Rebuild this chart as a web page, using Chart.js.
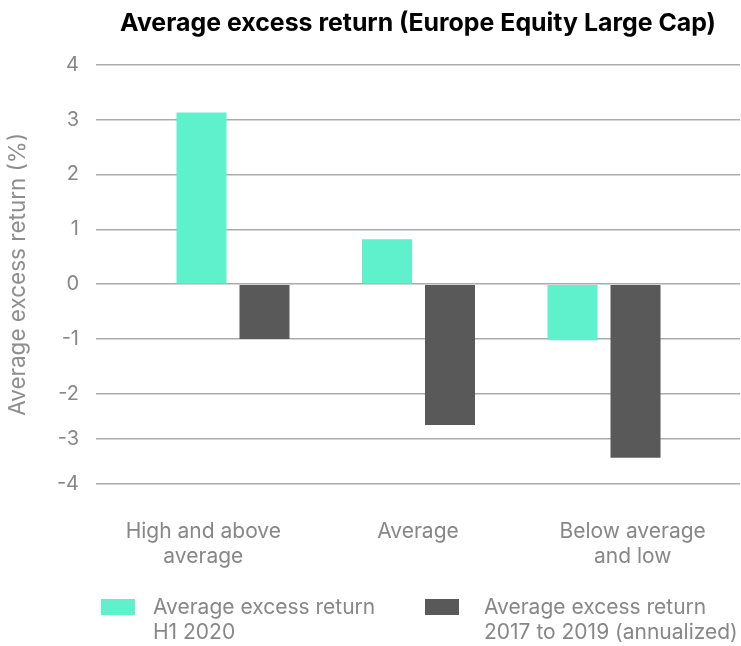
<!DOCTYPE html>
<html><head><meta charset="utf-8">
<script src="https://cdn.jsdelivr.net/npm/chart.js@4.4.1/dist/chart.umd.min.js"></script>
<style>html,body{margin:0;padding:0;background:#fff}#wrap{width:741px;height:646px;position:relative}</style>
</head><body><div id="wrap"><canvas id="c" width="741" height="646"></canvas></div>
<script>
const categories = [["High and above", "average"], ["Average"], ["Below average", "and low"]];
const seriesNames = [["Average excess return", "H1 2020"], ["Average excess return", "2017 to 2019 (annualized)"]];
const h1_2020 = [3.13, 0.82, -1.02];
const annualized_2017_2019 = [-1.0, -2.69, -3.42];
const yTicks = [4, 3, 2, 1, 0, -1, -2, -3, -4];
const titleText = "Average excess return (Europe Equity Large Cap)";
const yAxisTitle = "Average excess return (%)";

const FONT = 'Inter';
const TEXT_GREY = '#878787';
const WARP_BELOW = -2, WARP_K = 0.821;
const warp = v => v < WARP_BELOW ? WARP_BELOW + (v - WARP_BELOW) * WARP_K : v;
const unwarp = w => w < WARP_BELOW ? WARP_BELOW + (w - WARP_BELOW) / WARP_K : w;
class WarpScale extends Chart.LinearScale {
  getPixelForValue(value) {
    if (value === null || value === undefined) return NaN;
    const a = warp(this.min), b = warp(this.max);
    return this.getPixelForDecimal((warp(value) - a) / (b - a));
  }
  getValueForPixel(pixel) {
    const a = warp(this.min), b = warp(this.max);
    return unwarp(a + this.getDecimalForPixel(pixel) * (b - a));
  }
}
WarpScale.id = 'warp';
Chart.register(WarpScale);

const legendPlugin = {
  id: 'customLegend',
  afterDraw(chart, args, opts) {
    const ctx = chart.ctx, ca = chart.chartArea;
    ctx.save();
    ctx.font = '21px ' + FONT;
    ctx.textBaseline = 'middle';
    ctx.textAlign = 'left';
    chart.data.datasets.forEach((ds, i) => {
      const bx = ca.left + opts.boxX[i], tx = ca.left + opts.textX[i];
      ctx.fillStyle = ds.backgroundColor;
      ctx.fillRect(bx, opts.y - 9, 34, 16);
      ctx.fillStyle = TEXT_GREY;
      ds.label.forEach((t, k) => ctx.fillText(t, tx, opts.y + k * opts.lineH));
    });
    ctx.restore();
  }
};

new Chart(document.getElementById('c'), {
  type: 'bar',
  data: {
    labels: categories,
    datasets: [
      { label: seriesNames[0], data: h1_2020.map((v, i) => ({ x: i, y: v })), backgroundColor: '#5EF1CB', xAxisID: 'xb', yAxisID: 'y' },
      { label: seriesNames[1], data: annualized_2017_2019.map((v, i) => ({ x: i, y: v })), backgroundColor: '#595959', xAxisID: 'xb', yAxisID: 'y' }
    ]
  },
  options: {
    responsive: false,
    devicePixelRatio: 1,
    animation: false,
    categoryPercentage: 0.679,
    barPercentage: 0.794,
    layout: { padding: { top: 0, left: 0, right: 1, bottom: 62 } },
    plugins: {
      legend: { display: false },
      tooltip: { enabled: false },
      customLegend: { boxX: [5, 329], textX: [57, 388], y: 608, lineH: 25 },
      title: {
        display: true, text: titleText, fullSize: false, color: '#000',
        font: { family: FONT, size: 24.9, weight: 'bold', lineHeight: 1.2 },
        padding: { top: 9, bottom: 25.8 }
      }
    },
    scales: {
      x: {
        type: 'category', offset: true,
        afterFit: s => { s.height = 100; },
        grid: { display: false, drawTicks: false }, border: { display: false },
        ticks: { color: TEXT_GREY, font: { family: FONT, size: 21, lineHeight: 1.2 }, padding: 35, maxRotation: 0, autoSkip: false }
      },
      xb: {
        type: 'linear', display: false, offset: false,
        min: -0.7385, max: 2.733,
        afterBuildTicks: s => { s.ticks = categories.map((c, i) => ({ value: i })); }
      },
      y: {
        type: 'warp', min: -4, max: 4,
        afterBuildTicks: s => { s.ticks = yTicks.map(v => ({ value: v })); },
        afterFit: s => { s.width = 96; },
        grid: { color: '#ababab', lineWidth: 1.5, drawTicks: false },
        border: { display: false },
        ticks: { color: TEXT_GREY, font: { family: FONT, size: 20 }, padding: 17 },
        title: { display: true, text: yAxisTitle, color: '#8e8e8e', font: { family: FONT, size: 22.5, lineHeight: 1.2 }, padding: { top: 5, bottom: 0 } }
      }
    }
  },
  plugins: [legendPlugin]
});
</script></body></html>
